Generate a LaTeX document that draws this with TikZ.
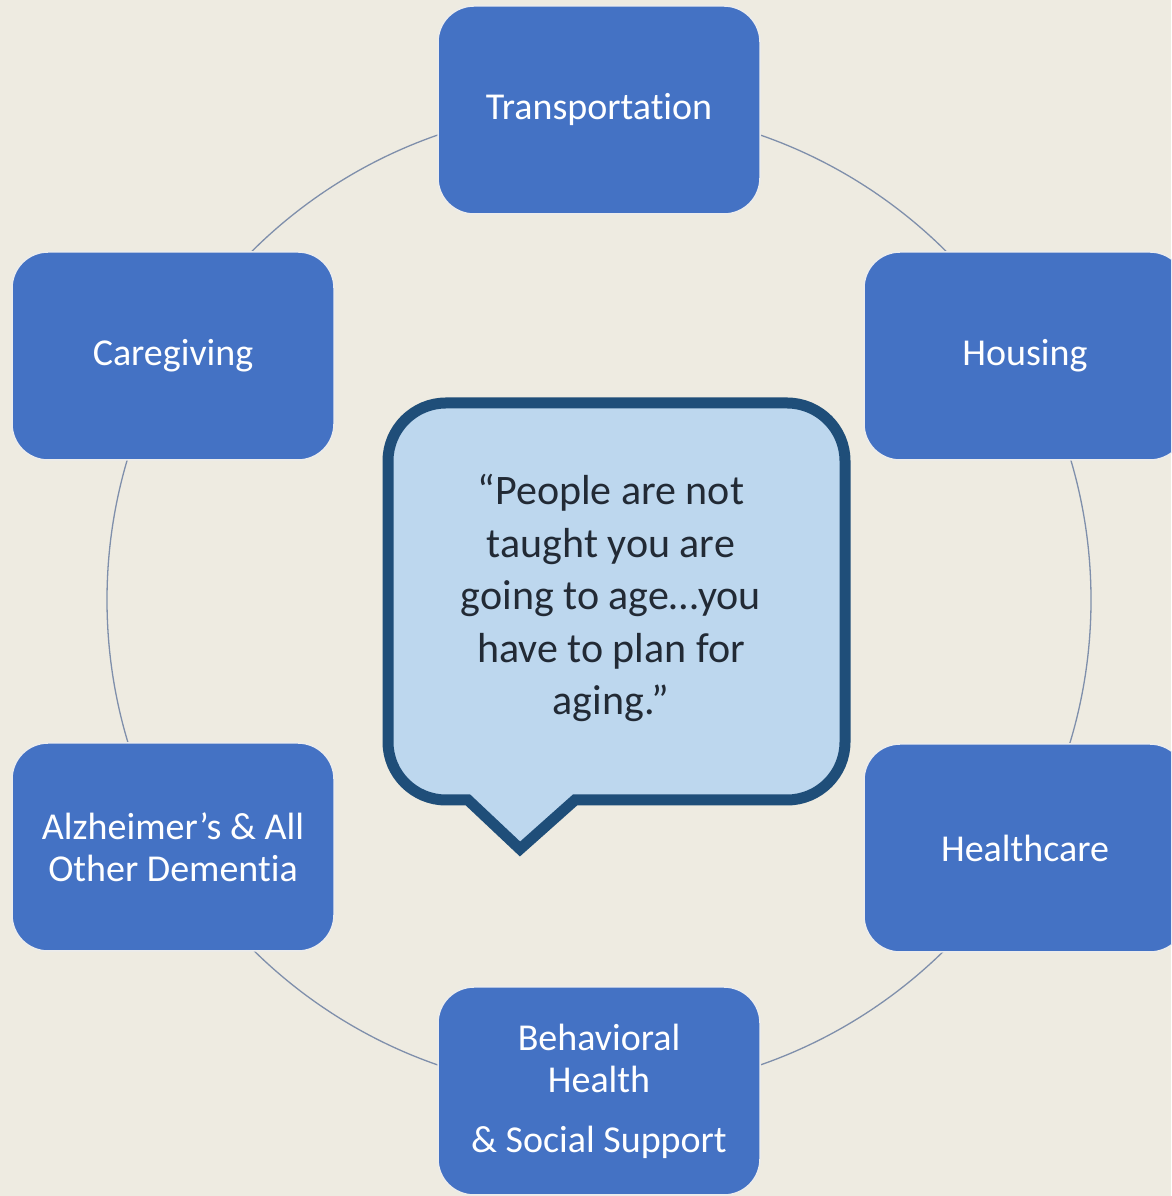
\documentclass[tikz,border=0pt]{standalone}
\usepackage{fontspec}
\setmainfont[Ligatures={NoCommon,NoContextual,NoRare},Contextuals=NoAlternate]{Carlito}
\definecolor{bgc}{HTML}{EEEBE1}
\definecolor{boxblue}{HTML}{4472C4}
\definecolor{ringc}{HTML}{7F8FAB}
\definecolor{calloutfill}{HTML}{BDD7EE}
\definecolor{calloutline}{HTML}{1F4E79}
\definecolor{quotec}{HTML}{222A35}
\newcommand\brk{\kern0pt }
\begin{document}
\begin{tikzpicture}[x=1pt,y=1pt,
  topic/.style={rectangle, rounded corners=36pt, fill=boxblue, draw=white!85!gray,
    line width=1.5pt, minimum width=322pt, minimum height=208pt, inner sep=0pt,
    text=white, align=center,
    font=\fontsize{38}{42}\selectfont},
  ring/.style={draw=ringc, line width=1.3pt},
  callout/.style={draw=calloutline, fill=calloutfill, line width=11pt, line join=miter, miter limit=4}
]
\useasboundingbox (0,0) rectangle (1171,1196);
\clip (0,0) rectangle (1171,1196);
\fill[bgc] (0,0) rectangle (1171,1196);

\coordinate (hub) at (599,596);
\draw[ring] (hub) circle[radius=492];

\node[topic] (trans) at (599,1086) {Transportat\brk ion};
\node[topic] (hous) at (1025,840) {Housing};
\node[topic] (care) at (173,840) {Caregiving};
\node[topic] (alz) at (173,349) {Alzheimer’s \& All\\Other Dement\brk ia};
\node[topic] (health) at (1025,348) {Healthcare};
\node[topic] (behav) at (599,105) {Behavioral\\Health\\[18pt]\& Social Support};

\draw[callout] (468,396) -- (446,396)
  arc[start angle=270, end angle=180, radius=58] -- (388,735)
  arc[start angle=180, end angle=90, radius=58] -- (787,793)
  arc[start angle=90, end angle=0, radius=58] -- (845,454)
  arc[start angle=0, end angle=-90, radius=58] -- (575,396)
  -- (520,347) -- cycle;

\node[align=center, text=quotec, font=\fontsize{42}{52.5}\selectfont] (quote) at (611,598)
  {“People are not\\taught you are\\going to age…you\\have to plan for\\aging.”};
\end{tikzpicture}
\end{document}
